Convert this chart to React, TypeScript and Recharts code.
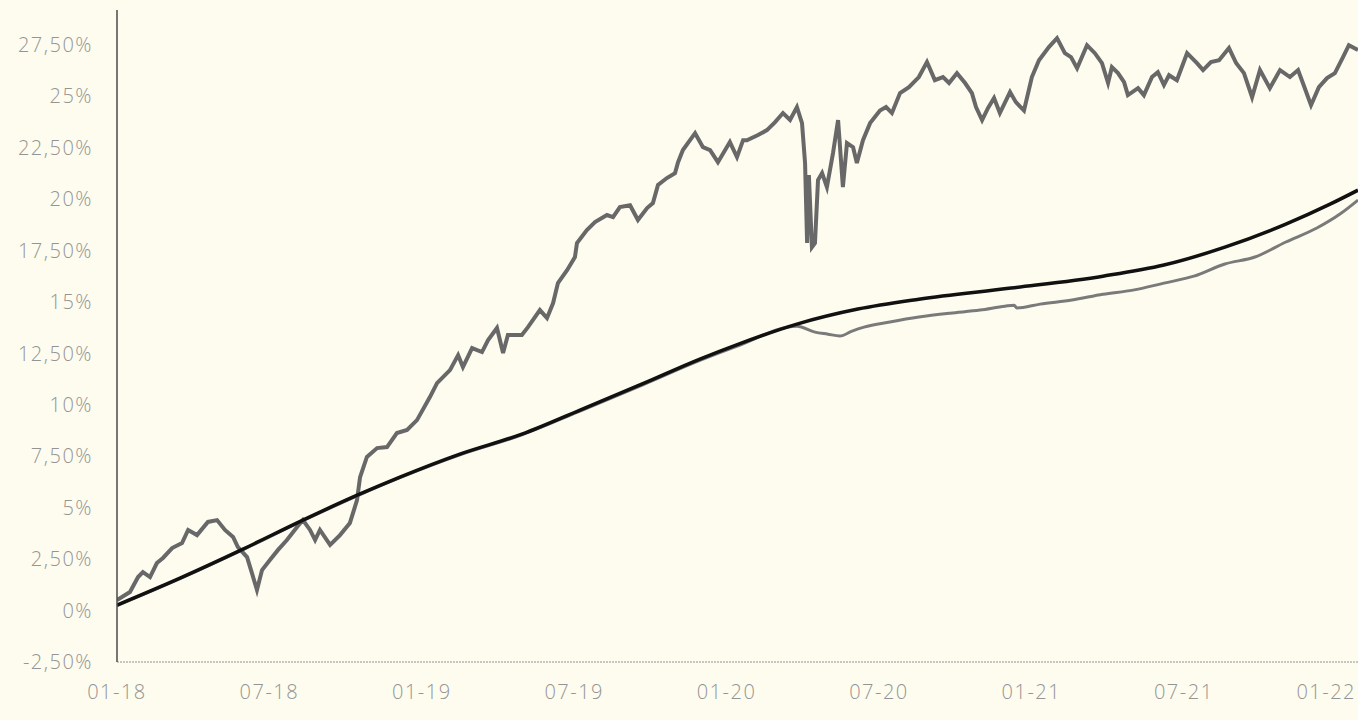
import React from 'react';
import { LineChart, Line, XAxis, YAxis } from 'recharts';

// months since 01-2018 for the tick labels
const tickMonths = [0, 6, 12, 18, 24, 30, 36, 42, 48];
const tickLabels = ['01-18', '07-18', '01-19', '07-19', '01-20', '07-20', '01-21', '07-21', '01-22'];
const yTicks = [-2.5, 0, 2.5, 5, 7.5, 10, 12.5, 15, 17.5, 20, 22.5, 25, 27.5];

// fund (noisy grey line): month offset, cumulative return in %
const fundMonths = [
  0, 0.51, 0.83, 1.02, 1.3, 1.57, 1.81, 2.17, 2.56, 2.8, 3.15, 3.58, 3.94, 4.25, 4.57, 4.76, 5.12, 5.31,
  5.51, 5.71, 6.02, 6.34, 6.69, 7.09, 7.32, 7.6, 7.8, 7.99, 8.39, 8.78, 9.17, 9.45, 9.57, 9.84, 10.24,
  10.63, 11.02, 11.42, 11.81, 12.32, 12.6, 13.11, 13.43, 13.62, 13.98, 14.37, 14.61, 14.96, 15.2, 15.39,
  15.94, 16.18, 16.65, 16.93, 17.17, 17.36, 17.72, 18.03, 18.11, 18.5, 18.82, 19.29, 19.53, 19.8, 20.2,
  20.51, 20.87, 21.1, 21.3, 21.65, 21.97, 22.09, 22.28, 22.76, 23.07, 23.35, 23.66, 24.13, 24.41, 24.65,
  24.8, 25.24, 25.59, 25.91, 26.22, 26.5, 26.77, 26.97, 27.09, 27.17, 27.24, 27.36, 27.48, 27.6, 27.76,
  27.95, 28.19, 28.39, 28.58, 28.74, 28.98, 29.13, 29.37, 29.65, 30.04, 30.28, 30.51, 30.83, 31.18, 31.57,
  31.89, 32.2, 32.52, 32.76, 33.07, 33.39, 33.66, 33.82, 34.06, 34.29, 34.53, 34.76, 35.16, 35.39, 35.71,
  36.02, 36.3, 36.69, 37.01, 37.32, 37.56, 37.8, 38.19, 38.5, 38.78, 39.02, 39.17, 39.41, 39.65, 39.8,
  40.2, 40.43, 40.75, 40.98, 41.22, 41.42, 41.73, 42.13, 42.52, 42.76, 43.07, 43.39, 43.78, 44.06, 44.37,
  44.69, 45.0, 45.39, 45.79, 46.18, 46.5, 46.69, 47.01, 47.32, 47.64, 47.95, 48.27, 48.5, 48.86,
];
const fundReturns = [
  0.51, 0.9, 1.63, 1.87, 1.63, 2.31, 2.56, 3.04, 3.28, 3.92, 3.67, 4.31, 4.4, 3.92, 3.58, 3.09, 2.6, 1.83,
  1.0, 1.97, 2.46, 2.95, 3.43, 4.06, 4.4, 3.92, 3.43, 3.92, 3.19, 3.67, 4.26, 5.37, 6.49, 7.47, 7.9,
  7.95, 8.63, 8.78, 9.26, 10.38, 11.06, 11.69, 12.42, 11.84, 12.76, 12.57, 13.15, 13.74, 12.52, 13.4,
  13.4, 13.78, 14.61, 14.22, 14.95, 15.92, 16.55, 17.19, 17.87, 18.5, 18.89, 19.23, 19.13, 19.62, 19.71,
  18.99, 19.57, 19.81, 20.69, 21.03, 21.27, 21.8, 22.39, 23.21, 22.53, 22.39, 21.8, 22.78, 22.05, 22.87,
  22.87, 23.12, 23.36, 23.75, 24.19, 23.85, 24.48, 23.7, 21.76, 17.87, 21.17, 17.67, 17.87, 20.93, 21.27,
  20.59, 22.24, 23.85, 20.59, 22.73, 22.53, 21.76, 22.87, 23.7, 24.31, 24.48, 24.19, 25.16, 25.45, 25.94,
  26.67, 25.79, 25.94, 25.65, 26.13, 25.65, 25.16, 24.48, 23.85, 24.43, 24.92, 24.19, 25.21, 24.72, 24.31,
  25.94, 26.76, 27.4, 27.83, 27.1, 26.91, 26.37, 27.49, 27.1, 26.62, 25.65, 26.42, 26.13, 25.69, 25.06,
  25.4, 25.06, 25.94, 26.18, 25.55, 26.03, 25.79, 27.1, 26.62, 26.28, 26.67, 26.76, 27.35, 26.62, 26.13,
  24.96, 26.28, 25.4, 26.28, 25.94, 26.28, 25.65, 24.57, 25.45, 25.89, 26.13, 26.91, 27.49, 27.25,
];

// smooth black line
const trendMonths = [0, 2.48, 4.96, 7.32, 9.57, 11.14, 13.5, 15.94, 18.23, 20.75, 22.95, 24.37, 26.77, 29.17, 31.57, 35.2, 38.82, 41.22, 43.62, 46.02, 47.76, 48.86];
const trendReturns = [0.27, 1.58, 2.99, 4.4, 5.67, 6.49, 7.61, 8.58, 9.75, 11.06, 12.23, 12.91, 13.93, 14.66, 15.14, 15.68, 16.26, 16.8, 17.67, 18.79, 19.76, 20.44];

// smooth grey line, same as the black one until spring 2020
const benchMonths = [0, 2.48, 4.96, 7.32, 9.57, 11.14, 13.5, 15.94, 18.23, 20.75, 22.95, 24.37, 26.77, 27.48, 27.99, 28.46, 28.94, 29.41, 30.43, 31.57, 32.8, 33.98, 34.96, 35.32, 35.43, 36.34, 37.6, 38.82, 40.0, 41.22, 42.4, 43.62, 44.8, 46.02, 47.24, 48.15, 48.86];
const benchReturns = [0.24, 1.55, 2.96, 4.37, 5.64, 6.46, 7.57, 8.54, 9.7, 11.0, 12.16, 12.83, 13.83, 13.54, 13.44, 13.35, 13.59, 13.78, 14.03, 14.27, 14.46, 14.61, 14.8, 14.85, 14.71, 14.9, 15.1, 15.38, 15.58, 15.92, 16.26, 16.85, 17.19, 17.92, 18.6, 19.28, 19.96];

const toRows = (ms: number[], vs: number[]) => ms.map((m, i) => ({ m, v: vs[i] }));
const fundData = toRows(fundMonths, fundReturns);
const trendData = toRows(trendMonths, trendReturns);
const benchData = toRows(benchMonths, benchReturns);

const fmtPct = (v: number) =>
  Number.isInteger(v) ? `${v}%` : `${v.toFixed(2).replace('.', ',')}%`;

const tickStyle = {
  fontSize: 20,
  letterSpacing: 1.5,
  fill: '#949494',
  fontFamily: '"Open Sans", "DejaVu Sans", sans-serif',
  fontWeight: 300,
};

// date ticks; the last one sits against the right edge, so it is anchored at its end
function DateTick({ x, y, payload }: any) {
  const i = tickMonths.indexOf(payload.value);
  const last = i === tickMonths.length - 1;
  return (
    <text
      x={last ? 1356 : x}
      y={y}
      dy="0.71em"
      textAnchor={last ? 'end' : 'middle'}
      {...tickStyle}
    >
      {tickLabels[i] ?? ''}
    </text>
  );
}

export default function App() {
  return (
    <div style={{ position: 'fixed', left: 0, top: 0, width: 1358, height: 720, background: '#fdfcee', overflow: 'hidden' }}>
      <LineChart width={1358} height={720} margin={{ top: 10, right: 0, bottom: 0, left: 0 }}>
        <XAxis
          type="number"
          dataKey="m"
          domain={[0, 48.86]}
          ticks={tickMonths}
          height={58}
          tick={<DateTick />}
          tickSize={0}
          tickMargin={23}
          axisLine={{ stroke: '#b5b5b0', strokeWidth: 1.5, strokeDasharray: '2 1' }}
          allowDataOverflow
        />
        <YAxis
          type="number"
          domain={[-2.5, 29.2]}
          ticks={yTicks}
          tickFormatter={fmtPct}
          width={117}
          tick={tickStyle}
          tickSize={0}
          tickMargin={24}
          axisLine={{ stroke: '#4a4a4a', strokeWidth: 1.5 }}
          allowDataOverflow
        />
        <Line data={benchData} dataKey="v" type="monotone" stroke="#7a7a7a" strokeWidth={3} dot={false} isAnimationActive={false} />
        <Line data={fundData} dataKey="v" type="linear" stroke="#686868" strokeWidth={4} dot={false} isAnimationActive={false} />
        <Line data={trendData} dataKey="v" type="monotone" stroke="#111111" strokeWidth={3.5} dot={false} isAnimationActive={false} />
      </LineChart>
    </div>
  );
}
